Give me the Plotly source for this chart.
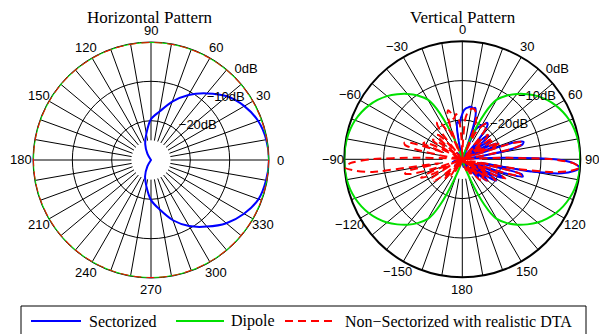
import math
import plotly.graph_objects as go

# ---------------- data (values in dB, -30 dB = centre of plot) ----------------
# Horizontal pattern: angle in degrees, counter-clockwise from 0 (right)
h_theta = [0, 10, 20, 30, 40, 50, 60, 70, 80, 90, 100, 110, 120, 130, 140, 150, 160, 170, 180,
           190, 200, 210, 220, 230, 240, 250, 260, 270, 280, 290, 300, 310, 320, 330, 340, 350, 360]
h_sectorized = [0, -0.25, -1.0, -2.6, -4.8, -7.9, -10.9, -14.2, -17.5, -19.6, -23.2, -25.7, -28.2, -30, -30, -30, -30, -30, -30,
                -30, -30, -30, -30, -30, -28.2, -25.6, -23.2, -19.8, -17.2, -13.7, -10.6, -7.9, -5.0, -2.7, -0.9, -0.3, 0]
h_omni_theta = [0, 15, 30, 45, 60, 75, 90, 105, 120, 135, 150, 165, 180, 195, 210, 225, 240, 255,
                270, 285, 300, 315, 330, 345, 360]
h_dipole = [0, 0, 0, 0, 0, 0, 0, 0, 0, 0, 0, 0, 0, 0, 0, 0, 0, 0, 0, 0, 0, 0, 0, 0, 0]
h_nonsect = [0, 0, 0, 0, 0, 0, 0, 0, 0, 0, 0, 0, 0, 0, 0, 0, 0, 0, 0, 0, 0, 0, 0, 0, 0]

# Vertical pattern: angle in degrees, clockwise from 0 (top)
v_theta = list(range(-180, 181, 2))
v_nonsect = [
    -30, -30, -30, -30, -30, -30, -30, -30, -30, -30,            # -180 .. -162
    -28.5, -27.5, -28.5, -30, -30, -27, -25, -25, -27, -30,      # -160 .. -142
    -27, -23.5, -23, -25, -30, -23.5, -21, -21.5, -21, -21,      # -140 .. -122
    -24, -27, -20, -18.5, -21, -30, -22, -16.5, -15, -16,        # -120 .. -102
    -24, -7, -2.5, 0, -1.5, -6.5, -18, -27, -30, -30,            # -100 .. -82
    -25, -18, -15, -14.7, -16.5, -25, -19.3, -19.5, -22, -30,    # -80 .. -62
    -26, -21.5, -21, -23, -30, -27, -22, -21, -21.5, -24,        # -60 .. -42
    -29, -22, -19.2, -18.6, -18.7, -20, -21.5, -21, -22, -28,    # -40 .. -22
    -21, -17.8, -17, -17.8, -19.5, -19, -18.4, -18.8, -21, -25,  # -20 .. -2
    -30, -26, -20, -18.3, -17.5, -17, -16.8, -17, -17.6, -18.5,  # 0 .. 18
    -20, -24, -28, -23, -21, -20.5, -19.5, -19, -19.3, -21,      # 20 .. 38
    -26, -29, -23, -21, -21.5, -25, -30, -22, -20.5, -21,        # 40 .. 58
    -25, -30, -22, -19.5, -21, -28, -17, -14, -14.5, -17,        # 60 .. 78
    -24, -30, -30, -28, -19, -7, -1.8, 0, -2.2, -6.5,            # 80 .. 98
    -16, -28, -15, -14.5, -19, -29, -20, -18, -21, -29,          # 100 .. 118
    -22, -20, -22.5, -30, -24, -21.5, -22.5, -29, -26, -23.5,    # 120 .. 138
    -23, -25, -30, -28, -25.5, -25, -27, -30, -30, -28,          # 140 .. 158
    -27, -27.5, -30, -30, -30, -30, -30, -30, -30, -30,          # 160 .. 178
    -30,                                                         # 180
]
v_sectorized = [
    -30, -30, -30, -30, -30, -30, -30, -30, -30, -30,            # -180 .. -162
    -28.5, -30, -30, -30, -30, -30, -30, -30, -30, -30,          # -160 .. -142
    -30, -30, -30, -30, -28, -27.5, -28.5, -30, -30, -30,        # -140 .. -122
    -30, -30, -30, -30, -30, -30, -30, -28, -27.5, -28.5,        # -120 .. -102
    -30, -30, -30, -30, -30, -30, -30, -30, -30, -30,            # -100 .. -82
    -30, -30, -28.5, -28, -29, -30, -30, -30, -30, -30,          # -80 .. -62
    -30, -30, -30, -30, -30, -30, -30, -30, -30, -30,            # -60 .. -42
    -30, -29, -28, -28.5, -30, -30, -30, -30, -30, -30,          # -40 .. -22
    -30, -30, -30, -30, -27, -22.5, -20.5, -20.5, -21, -19.5,    # -20 .. -2
    -18.5, -17.5, -17, -16.8, -16.5, -16.5, -16.8, -16.5, -17.5, -20,  # 0 .. 18
    -26, -30, -22, -21, -20.5, -20, -19.5, -18.8, -19, -20.5,    # 20 .. 38
    -25, -30, -24, -21.5, -21, -23, -30, -25, -22, -21.5,        # 40 .. 58
    -23, -28, -21.5, -20.3, -22, -27, -16, -13.8, -14.2, -16.5,  # 60 .. 78
    -23, -30, -30, -27, -18.5, -6.5, -1.7, 0, -1.5, -4.5,        # 80 .. 98
    -12, -26, -14.5, -14, -18, -28, -20.5, -18.5, -20, -28,      # 100 .. 118
    -21.5, -19.8, -21.5, -28, -23, -21.8, -22, -27, -25, -24,    # 120 .. 138
    -24, -27, -30, -27, -26, -26.5, -30, -30, -30, -30,          # 140 .. 158
    -30, -30, -30, -30, -30, -28.5, -28, -29, -30, -30,          # 160 .. 178
    -30,                                                         # 180
]
v_dipole_theta = [0, 10, 14, 16, 18, 20, 22, 24, 26, 28, 30, 35, 40, 45, 50, 55, 60, 65, 70, 75, 80, 85, 90,
                  95, 100, 105, 110, 115, 120, 125, 130, 135, 140, 145, 150, 152, 154, 156, 158, 160, 162, 164, 166, 170, 180,
                  190, 194, 196, 198, 200, 202, 204, 206, 208, 210, 215, 220, 225, 230, 235, 240, 245, 250, 255, 260, 265, 270,
                  275, 280, 285, 290, 295, 300, 305, 310, 315, 320, 325, 330, 332, 334, 336, 338, 340, 342, 344, 346, 350, 360]
v_dipole = [-30, -30, -30, -29, -28, -26.5, -24, -20.5, -17, -14.3, -12.5, -10.2, -8.3, -6.6, -5.0, -3.7, -2.6, -1.7, -1.0, -0.5, -0.2, -0.05, 0,
            -0.05, -0.2, -0.5, -1.0, -1.7, -2.6, -3.7, -5.0, -6.6, -8.3, -10.2, -12.5, -14.3, -17, -20.5, -24, -26.5, -28, -29, -30, -30, -30,
            -30, -30, -29, -28, -26.5, -24, -20.5, -17, -14.3, -12.5, -10.2, -8.3, -6.6, -5.0, -3.7, -2.6, -1.7, -1.0, -0.5, -0.2, -0.05, 0,
            -0.05, -0.2, -0.5, -1.0, -1.7, -2.6, -3.7, -5.0, -6.6, -8.3, -10.2, -12.5, -14.3, -17, -20.5, -24, -26.5, -28, -29, -30, -30, -30]

ang_ticks = [0, 30, 60, 90, 120, 150, 180, 210, 240, 270, 300, 330]
h_ang_labels = ["0", "30", "60", "90", "120", "150", "180", "210", "240", "270", "300", "330"]
v_ang_labels = ["0", "30", "60", "90", "120", "150", "180", "\u2212150", "\u2212120", "\u221290", "\u221260", "\u221230"]
db_ticks = [-20, -10, 0]
db_labels = ["\u221220dB", "\u221210dB", "0dB"]
series_names = ["Sectorized", "Dipole", "Non\u2212Sectorized with realistic DTA"]

assert len(v_theta) == len(v_nonsect) == len(v_sectorized)
assert len(v_dipole_theta) == len(v_dipole)

R_MIN, R_MAX = -30, 0
SPOKE_START = -25
BLUE, GREEN, RED = "#0000ff", "#00e000", "#ff0000"
RED_DASH = "8px,5px"
SANS = "Liberation Sans"
SERIF = "Liberation Serif"
W, H = 599, 334

# polar geometry in pixels (centre x, centre y, radius)
H_GEOM = (151.0, 160.0, 118.0)
V_GEOM = (462.3, 159.3, 118.0)
LABEL_FACTOR = 1.1


def px(x):
    return x / W


def py(y):
    return 1 - y / H


fig = go.Figure()


def spokes(subplot):
    r, t = [], []
    for a in range(0, 360, 10):
        r += [SPOKE_START, R_MAX, None]
        t += [a, a, None]
    fig.add_trace(go.Scatterpolar(r=r, theta=t, mode="lines", line=dict(color="black", width=1),
                                  hoverinfo="skip", showlegend=False, subplot=subplot))


def db_text(subplot):
    fig.add_trace(go.Scatterpolar(r=db_ticks, theta=[45] * len(db_ticks), mode="text", text=db_labels,
                                  textposition="top right", cliponaxis=False,
                                  textfont=dict(family=SANS, size=13, color="black"),
                                  hoverinfo="skip", showlegend=False, subplot=subplot))


# Horizontal
spokes("polar")
fig.add_trace(go.Scatterpolar(r=h_sectorized, theta=h_theta, mode="lines", name=series_names[0],
                              line=dict(color=BLUE, width=2, shape="spline", smoothing=0.8),
                              showlegend=False, subplot="polar"))
fig.add_trace(go.Scatterpolar(r=h_dipole, theta=h_omni_theta, mode="lines", name=series_names[1],
                              line=dict(color=GREEN, width=2, shape="spline"),
                              showlegend=False, subplot="polar"))
fig.add_trace(go.Scatterpolar(r=h_nonsect, theta=h_omni_theta, mode="lines", name=series_names[2],
                              line=dict(color=RED, width=2, dash=RED_DASH, shape="spline"),
                              showlegend=False, subplot="polar"))
db_text("polar")

# Vertical
spokes("polar2")
fig.add_trace(go.Scatterpolar(r=v_sectorized, theta=v_theta, mode="lines", name=series_names[0],
                              line=dict(color=BLUE, width=2, shape="spline", smoothing=0.6),
                              showlegend=False, subplot="polar2"))
fig.add_trace(go.Scatterpolar(r=v_dipole, theta=v_dipole_theta, mode="lines", name=series_names[1],
                              line=dict(color=GREEN, width=2, shape="spline", smoothing=0.6),
                              showlegend=False, subplot="polar2"))
fig.add_trace(go.Scatterpolar(r=v_nonsect, theta=v_theta, mode="lines", name=series_names[2],
                              line=dict(color=RED, width=2, dash=RED_DASH, shape="spline", smoothing=0.6),
                              showlegend=False, subplot="polar2"))
db_text("polar2")


def polar_layout(geom, rotation, direction, outer_width):
    cx, cy, rad = geom
    return dict(
        domain=dict(x=[px(cx - rad), px(cx + rad)], y=[py(cy + rad), py(cy - rad)]),
        bgcolor="white",
        radialaxis=dict(range=[R_MIN, R_MAX], tickmode="array", tickvals=[-20, -10],
                        showticklabels=False, ticks="", showline=False, showgrid=True,
                        gridcolor="black", gridwidth=1, layer="below traces"),
        angularaxis=dict(rotation=rotation, direction=direction, showticklabels=False,
                         showgrid=False, ticks="", showline=True, linecolor="black",
                         linewidth=outer_width, layer="below traces"),
    )


annotations = [
    dict(text="Horizontal Pattern", x=px(150), y=py(17), xref="paper", yref="paper", xanchor="center",
         yanchor="middle", showarrow=False, height=16, font=dict(family=SERIF, size=17, color="black")),
    dict(text="Vertical Pattern", x=px(463), y=py(17), xref="paper", yref="paper", xanchor="center",
         yanchor="middle", showarrow=False, height=16, font=dict(family=SERIF, size=17, color="black")),
]


# angle labels centred at 1.1 x outer radius (MATLAB polar style)
def angle_labels(geom, labels, rotation_deg, sign):
    cx, cy, rad = geom
    for a, lab in zip(ang_ticks, labels):
        phi = math.radians(rotation_deg + sign * a)
        x = cx + LABEL_FACTOR * rad * math.cos(phi)
        y = cy - LABEL_FACTOR * rad * math.sin(phi)
        annotations.append(dict(text=lab, x=px(x), y=py(y), xref="paper", yref="paper",
                                xanchor="center", yanchor="middle", showarrow=False,
                                font=dict(family=SANS, size=13, color="black")))


angle_labels(H_GEOM, h_ang_labels, 0, 1)
angle_labels(V_GEOM, v_ang_labels, 90, -1)

# manual legend box (the reference shows it cut off by the bottom edge)
LEG_Y = 321
legend_items = [  # (line x0, line x1, text x, colour, dashed)
    (31, 81, 87, BLUE, False),
    (176, 224, 229, GREEN, False),
    (285, 336, 343, RED, True),
]
shapes = [dict(type="rect", xref="paper", yref="paper", x0=px(21), x1=px(586), y0=py(345), y1=py(306),
               line=dict(color="black", width=1), fillcolor="white", layer="above")]
for (x0, x1, tx, col, dashed), name in zip(legend_items, series_names):
    shapes.append(dict(type="line", xref="paper", yref="paper", x0=px(x0), x1=px(x1), y0=py(LEG_Y), y1=py(LEG_Y),
                       line=dict(color=col, width=2, dash=RED_DASH if dashed else "solid"), layer="above"))
    annotations.append(dict(text=name, x=px(tx), y=py(LEG_Y), xref="paper", yref="paper", xanchor="left",
                            yanchor="middle", showarrow=False, font=dict(family=SERIF, size=16, color="black")))

fig.update_layout(
    width=W, height=H,
    margin=dict(l=0, r=0, t=0, b=0),
    paper_bgcolor="white",
    plot_bgcolor="white",
    showlegend=False,
    polar=polar_layout(H_GEOM, 0, "counterclockwise", 1),
    polar2=polar_layout(V_GEOM, 90, "clockwise", 2),
    shapes=shapes,
    annotations=annotations,
)

fig.write_html("out.html")
